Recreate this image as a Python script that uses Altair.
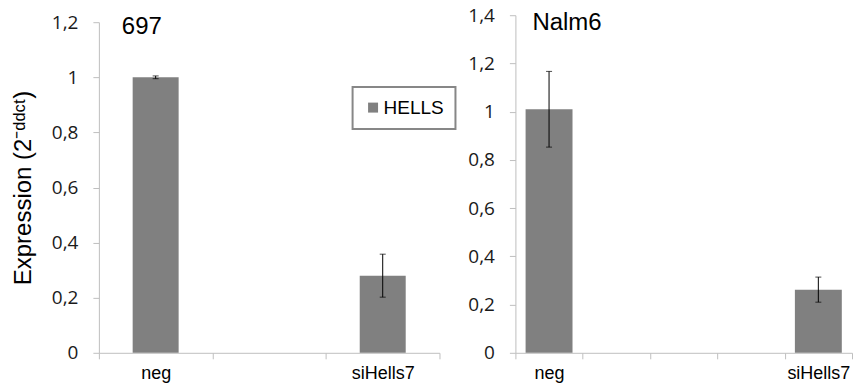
import altair as alt
import pandas as pd

# ---- data ----
series_name = "HELLS"
panel_titles = ["697", "Nalm6"]
y_title = "Expression (2⁻ᵈᵈᶜᵗ)"

cats_697 = ["neg", "siHells7"]
vals_697 = [1.00, 0.28]
errs_697 = [0.005, 0.078]
domain_697 = ["neg", "_1", "siHells7"]
yticks_697 = [0, 0.2, 0.4, 0.6, 0.8, 1.0, 1.2]

cats_nalm6 = ["neg", "siHells7"]
vals_nalm6 = [1.01, 0.262]
errs_nalm6 = [0.157, 0.052]
domain_nalm6 = ["neg", "_1", "_2", "_3", "siHells7"]
yticks_nalm6 = [0, 0.2, 0.4, 0.6, 0.8, 1.0, 1.2, 1.4]

BAR = "#808080"
AXC = "#bfbfbf"
H = 338


def panel(cats, vals, errs, domain, yticks, title, width, y_range, band,
          show_title, tx, ty, legend):
    df = pd.DataFrame({"cat": cats, "value": vals, "err": errs,
                       "series": [series_name] * len(cats)})
    base = alt.Chart(df).transform_calculate(
        lo="datum.value - datum.err", hi="datum.value + datum.err")
    xscale = alt.Scale(domain=domain, paddingInner=0, paddingOuter=0)
    yscale = alt.Scale(domain=[0, max(yticks)], nice=False, zero=True,
                       range=y_range)
    yaxis = alt.Axis(
        values=yticks, grid=False,
        labelExpr="replace(format(datum.value, '~g'), '.', ',')",
        labelFont="Open Sans", labelFontSize=19, labelColor="#1a1a1a",
        labelPadding=15, tickSize=6, tickColor=AXC, domainColor=AXC,
        title=y_title if show_title else None,
        titleFont="Liberation Sans", titleFontSize=24,
        titleFontWeight="normal", titleColor="black", titlePadding=16,
    )
    xaxis = alt.Axis(
        title=None, ticks=True, tickBand="extent", tickSize=6,
        tickColor=AXC, grid=False, labelAngle=0,
        labelExpr="indexof(datum.label, '_') == 0 ? '' : datum.label",
        labelFont="Liberation Sans", labelFontSize=18, labelColor="black",
        labelPadding=6, domainColor=AXC,
    )
    if legend:
        color = alt.Color("series:N", scale=alt.Scale(range=[BAR]),
                          legend=alt.Legend(
                              orient="none", legendX=254, legendY=72,
                              title=None, symbolType="square",
                              symbolSize=100, symbolStrokeWidth=0,
                              labelFont="Liberation Sans", labelFontSize=19,
                              labelColor="black", padding=11, labelOffset=1,
                              strokeColor="#878787", fillColor="white"))
    else:
        color = alt.value(BAR)
    bars = base.mark_bar(width=alt.RelativeBandSize(band)).encode(
        x=alt.X("cat:N", scale=xscale, sort=domain, axis=xaxis),
        y=alt.Y("value:Q", scale=yscale, axis=yaxis),
        color=color,
    )
    err = base.mark_rule(color="black", strokeWidth=1).encode(
        x=alt.X("cat:N", scale=xscale, sort=domain),
        y=alt.Y("lo:Q", scale=yscale),
        y2="hi:Q",
    )
    caps = base.transform_fold(["lo", "hi"], as_=["k", "v"]).mark_tick(
        color="black", thickness=1, size=6).encode(
        x=alt.X("cat:N", scale=xscale, sort=domain),
        y=alt.Y("v:Q", scale=yscale),
    )
    ttl = alt.Chart(pd.DataFrame({"t": [title]})).mark_text(
        align="left", baseline="alphabetic", font="Liberation Sans",
        fontSize=24, color="black").encode(
        text="t:N", x=alt.value(tx), y=alt.value(ty))
    return alt.layer(bars, err, caps, ttl).properties(width=width, height=H)


left = panel(cats_697, vals_697, errs_697, domain_697, yticks_697,
             panel_titles[0], 341, [H, 7], 0.405, True, 23, 19, True)
right = panel(cats_nalm6, vals_nalm6, errs_nalm6, domain_nalm6, yticks_nalm6,
              panel_titles[1], 337, [H, 0], 0.697, False, 17, 15, False)

chart = alt.hconcat(left, right, spacing=76, bounds="flush").properties(
    padding={"left": 11, "top": 6, "right": 0, "bottom": 0},
    background="white",
).configure_view(stroke=None).configure_legend(strokeWidth=2)

chart.save("out.html", embed_options={"renderer": "svg", "actions": False})
